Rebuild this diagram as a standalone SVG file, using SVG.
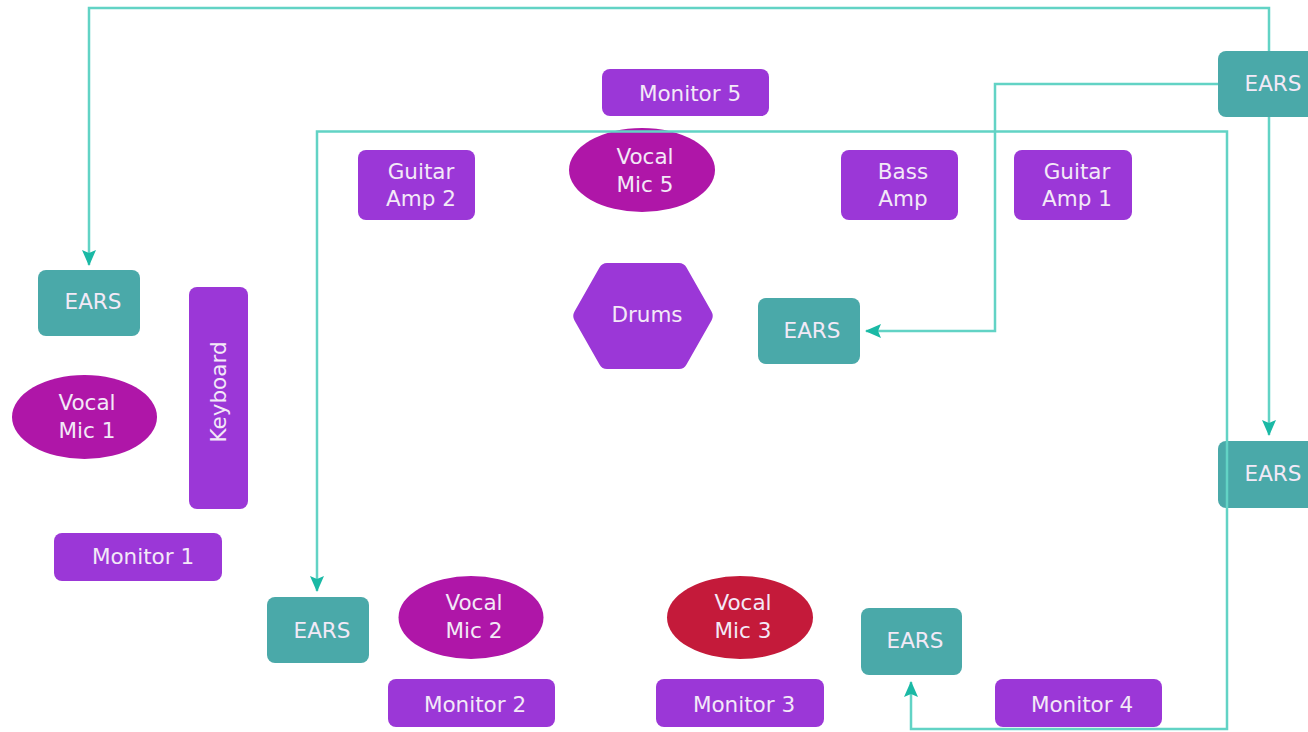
<svg xmlns="http://www.w3.org/2000/svg" width="1308" height="732" viewBox="0 0 1308 732">
<defs>
<style>
.t{font-family:"DejaVu Sans","Liberation Sans",sans-serif;font-size:21.5px;fill:#f3e9f7;text-anchor:middle}
.p{fill:#9b37d7}
.m{fill:#af16a8}
.r{fill:#c41a3a}
.e{fill:#4aa9a9}
.c{fill:none;stroke:#62d3c5;stroke-width:2.5;stroke-linejoin:miter}
</style>
<marker id="ah" markerWidth="16" markerHeight="14" refX="15" refY="7" orient="auto" markerUnits="userSpaceOnUse" viewBox="0 0 16 14">
<path d="M0,0 L16,7 L0,14 L3,7 Z" fill="#1ab9a5"/>
</marker>
</defs>
<rect width="1308" height="732" fill="#ffffff"/>

<g id="monitor5"><rect class="p" x="602" y="69" width="167" height="47" rx="8"/><text class="t" x="690" y="101">Monitor 5</text></g>
<g id="vocalmic5"><ellipse class="m" cx="642" cy="170" rx="73" ry="42"/><text class="t" x="645" y="164">Vocal</text><text class="t" x="645" y="192">Mic 5</text></g>
<g id="guitaramp2"><rect class="p" x="358" y="150" width="117" height="70" rx="8"/><text class="t" x="421" y="179">Guitar</text><text class="t" x="421" y="206">Amp 2</text></g>
<g id="bassamp"><rect class="p" x="841" y="150" width="117" height="70" rx="8"/><text class="t" x="903" y="179">Bass</text><text class="t" x="903" y="206">Amp</text></g>
<g id="guitaramp1"><rect class="p" x="1014" y="150" width="118" height="70" rx="8"/><text class="t" x="1077" y="179">Guitar</text><text class="t" x="1077" y="206">Amp 1</text></g>
<g id="drums"><path class="p" d="M574.5,311.5 L599.5,267.5 Q602,263 607,263 L679,263 Q684,263 686.5,267.5 L711.5,311.5 Q714,316 711.5,320.5 L686.5,364.5 Q684,369 679,369 L607,369 Q602,369 599.5,364.5 L574.5,320.5 Q572,316 574.5,311.5 Z"/><text class="t" x="647" y="322">Drums</text></g>
<g id="ears-mid"><rect class="e" x="758" y="298" width="102" height="66" rx="8"/><text class="t" x="812" y="338">EARS</text></g>
<g id="ears-left"><rect class="e" x="38" y="270" width="102" height="66" rx="8"/><text class="t" x="93" y="309">EARS</text></g>
<g id="vocalmic1"><ellipse class="m" cx="84.5" cy="417" rx="72.5" ry="42"/><text class="t" x="87" y="410">Vocal</text><text class="t" x="87" y="438">Mic 1</text></g>
<g id="keyboard"><rect class="p" x="189" y="287" width="59" height="222" rx="8"/><text class="t" transform="translate(226,392) rotate(-90)" x="0" y="0">Keyboard</text></g>
<g id="monitor1"><rect class="p" x="54" y="533" width="168" height="48" rx="8"/><text class="t" x="143" y="564">Monitor 1</text></g>
<g id="ears-bl"><rect class="e" x="267" y="597" width="102" height="66" rx="8"/><text class="t" x="322" y="638">EARS</text></g>
<g id="vocalmic2"><ellipse class="m" cx="471" cy="617.5" rx="72.5" ry="41.5"/><text class="t" x="474" y="610">Vocal</text><text class="t" x="474" y="638">Mic 2</text></g>
<g id="monitor2"><rect class="p" x="388" y="679" width="167" height="48" rx="8"/><text class="t" x="475" y="712">Monitor 2</text></g>
<g id="vocalmic3"><ellipse class="r" cx="740" cy="617.5" rx="73" ry="41.5"/><text class="t" x="743" y="610">Vocal</text><text class="t" x="743" y="638">Mic 3</text></g>
<g id="monitor3"><rect class="p" x="656" y="679" width="168" height="48" rx="8"/><text class="t" x="744" y="712">Monitor 3</text></g>
<g id="ears-bm"><rect class="e" x="861" y="608" width="101" height="67" rx="8"/><text class="t" x="915" y="648">EARS</text></g>
<g id="monitor4"><rect class="p" x="995" y="679" width="167" height="48" rx="8"/><text class="t" x="1082" y="712">Monitor 4</text></g>
<g id="ears-right"><rect class="e" x="1218" y="441" width="110" height="67" rx="8"/><text class="t" x="1273" y="481">EARS</text></g>
<g id="ears-top"><rect class="e" x="1218" y="51" width="110" height="66" rx="8"/><text class="t" x="1273" y="91">EARS</text></g>

<g id="connectors">
<path class="c" d="M1269,51 V8 H89 V265" marker-end="url(#ah)"/>
<path class="c" d="M1218,84 H995 V331 H866" marker-end="url(#ah)"/>
<path class="c" d="M1269,117 V435" marker-end="url(#ah)"/>
<path class="c" d="M1227,474 V131.5 H317 V591" marker-end="url(#ah)"/>
<path class="c" d="M1227,474 V729 H911 V682" marker-end="url(#ah)"/>
</g>
</svg>
